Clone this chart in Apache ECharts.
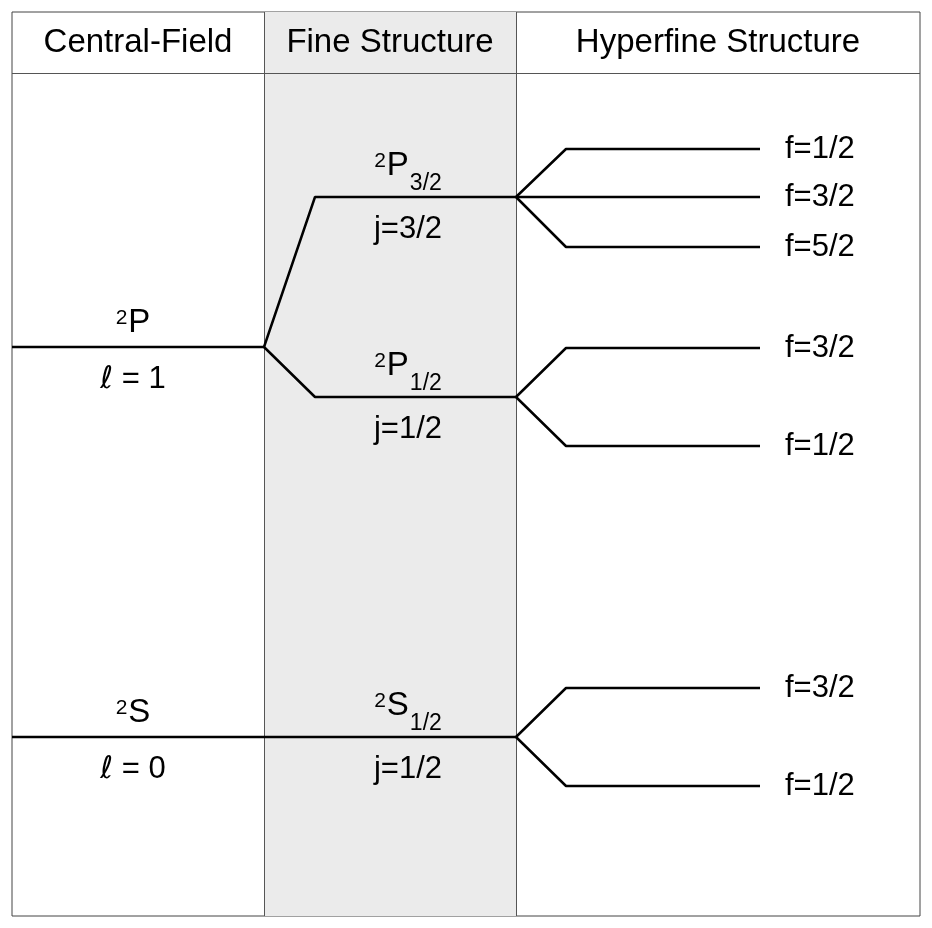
<!DOCTYPE html>
<html>
<head>
<meta charset="utf-8">
<title>Energy levels</title>
<script src="https://cdn.jsdelivr.net/npm/echarts@6/dist/echarts.min.js"></script>
<style>
html,body{margin:0;padding:0;background:#fff;}
#chart{width:932px;height:928px;}
</style>
</head>
<body>
<div id="chart"></div>
<script>
// columns of the diagram (x in diagram units, 0..908)
var columns = ['Central-Field', 'Fine Structure', 'Hyperfine Structure'];
var colEdges = [0, 252, 504, 908];
var headerY = 843; // bottom of the header row (y units, 0..904 upward)

// central-field levels
var centralY = [569, 179];
var centralTerm = ['P', 'S'];
var centralL = ['1', '0'];

// fine structure levels
var fineY = [719, 519, 179];
var fineParent = [0, 0, 1];
var fineTerm = ['P', 'P', 'S'];
var fineSub = ['3/2', '1/2', '1/2'];
var fineJ = ['3/2', '1/2', '1/2'];

// hyperfine levels
var hyperY = [767, 719, 669, 568, 470, 228, 130];
var hyperParent = [0, 0, 0, 1, 1, 2, 2];
var hyperF = ['1/2', '3/2', '5/2', '3/2', '1/2', '3/2', '1/2'];

var fan = 51;       // horizontal run of the splitting lines
var hyperEnd = 748; // end of hyperfine level lines
var centralLabelX = 121;
var fineLabelX = 396;

var font = "'Liberation Sans', Arial, Helvetica, sans-serif";
var lineStyle = {color: '#000', width: 2.5};

var chart = echarts.init(document.getElementById('chart'));
var series = [];

// background, dividers
series.push({
    type: 'line',
    data: [],
    silent: true,
    markArea: {
        silent: true,
        itemStyle: {color: '#ebebeb'},
        data: [[{xAxis: colEdges[1]}, {xAxis: colEdges[2]}]]
    },
    markLine: {
        silent: true,
        symbol: 'none',
        label: {show: false},
        lineStyle: {color: '#555', width: 1, type: 'solid'},
        data: [{xAxis: colEdges[1]}, {xAxis: colEdges[2]}, {yAxis: headerY}]
    }
});

// header texts
series.push({
    type: 'scatter',
    symbolSize: 0,
    silent: true,
    itemStyle: {opacity: 1},
    data: columns.map(function (c, i) {
        return {value: [(colEdges[i] + colEdges[i + 1]) / 2, (headerY + 904) / 2], name: c};
    }),
    label: {
        show: true,
        position: 'inside',
        formatter: '{b}',
        color: '#000',
        fontSize: 33,
        fontFamily: font
    }
});

// level lines
for (var i = 0; i < centralY.length; i++) {
    series.push({type: 'line', symbol: 'none', silent: true, lineStyle: lineStyle, z: 5,
        data: [[colEdges[0], centralY[i]], [colEdges[1], centralY[i]]]});
}
for (var i = 0; i < fineY.length; i++) {
    var py = centralY[fineParent[i]];
    series.push({type: 'line', symbol: 'none', silent: true, lineStyle: lineStyle, z: 5,
        data: [[colEdges[1], py], [colEdges[1] + fan, fineY[i]], [colEdges[2], fineY[i]]]});
}
for (var i = 0; i < hyperY.length; i++) {
    var py = fineY[hyperParent[i]];
    series.push({type: 'line', symbol: 'none', silent: true, lineStyle: lineStyle, z: 5,
        data: [[colEdges[2], py], [colEdges[2] + fan - 1, hyperY[i]], [hyperEnd, hyperY[i]]],
        endLabel: {
            show: true,
            distance: 25,
            formatter: 'f=' + hyperF[i],
            color: '#000',
            fontSize: 31,
            fontFamily: font
        }
    });
}

var termRich = {
    sup: {fontSize: 21, verticalAlign: 'top', padding: [2, 1, 0, 0], fontFamily: font, color: '#000'},
    main: {fontSize: 33, verticalAlign: 'top', fontFamily: font, color: '#000'},
    sub: {fontSize: 23, verticalAlign: 'top', padding: [23, 0, 0, 1], fontFamily: font, color: '#000'}
};
var belowRich = {
    ell: {fontSize: 31, fontStyle: 'italic', fontFamily: "'DejaVu Sans', sans-serif", color: '#000'},
    t: {fontSize: 31, fontFamily: font, color: '#000'}
};

// term labels above levels
series.push({
    type: 'scatter', symbolSize: 0, silent: true, z: 6,
    itemStyle: {opacity: 1},
    data: centralY.map(function (y, i) {
        return {value: [centralLabelX, y], label: {formatter: '{sup|2}{main|' + centralTerm[i] + '}', distance: 8}};
    }).concat(fineY.map(function (y, i) {
        return {value: [fineLabelX, y], label: {formatter: '{sup|2}{main|' + fineTerm[i] + '}{sub|' + fineSub[i] + '}', distance: 2}};
    })),
    label: {show: true, position: 'top', rich: termRich}
});

// quantum number labels below levels
series.push({
    type: 'scatter', symbolSize: 0, silent: true, z: 6,
    itemStyle: {opacity: 1},
    data: centralY.map(function (y, i) {
        return {value: [centralLabelX, y], label: {formatter: '{ell|ℓ}{t| = ' + centralL[i] + '}'}};
    }).concat(fineY.map(function (y, i) {
        return {value: [fineLabelX, y], label: {formatter: '{t|j=' + fineJ[i] + '}'}};
    })),
    label: {show: true, position: 'bottom', distance: 17, rich: belowRich}
});

chart.setOption({
    animation: false,
    backgroundColor: '#fff',
    grid: {left: 12, right: 12, top: 12, bottom: 12, show: true, borderColor: '#444', borderWidth: 1, backgroundColor: 'transparent'},
    xAxis: {type: 'value', min: 0, max: 908, show: false},
    yAxis: {type: 'value', min: 0, max: 904, show: false},
    series: series
});
</script>
</body>
</html>
